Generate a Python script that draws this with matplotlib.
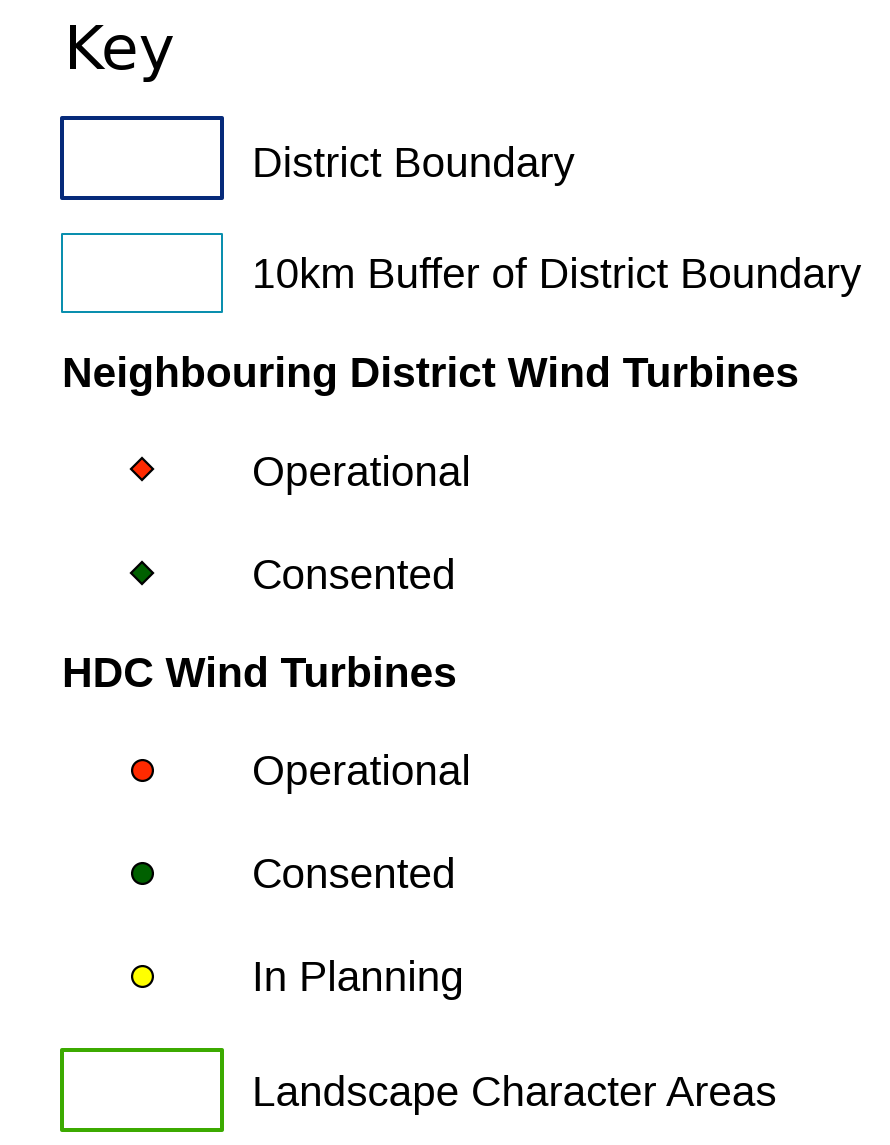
import matplotlib
matplotlib.use("Agg")
import matplotlib.pyplot as plt
from matplotlib.patches import Rectangle

plt.rcParams['font.family'] = ['Liberation Sans', 'DejaVu Sans']

title = "Key"
box_labels = ["District Boundary", "10km Buffer of District Boundary"]
box_colors = ["#062a7a", "#0a8fae"]
box_widths = [4.0, 2.0]

group1_heading = "Neighbouring District Wind Turbines"
group1_labels = ["Operational", "Consented"]
group1_colors = ["#ff2a00", "#006000"]

group2_heading = "HDC Wind Turbines"
group2_labels = ["Operational", "Consented", "In Planning"]
group2_colors = ["#ff2a00", "#006000", "#ffff00"]

last_label = "Landscape Character Areas"
last_color = "#3caa00"

W, H = 890, 1145
fig = plt.figure(figsize=(W / 100, H / 100), dpi=100)
ax = fig.add_axes([0, 0, 1, 1])
ax.set_xlim(0, W)
ax.set_ylim(H, 0)
ax.axis('off')

FS = 30.5
TX = 252

ax.text(64, 69, title, fontsize=44, va='baseline', ha='left', family=['DejaVu Sans'])

# box legend entries
box_tops = [118, 234]
box_h = [80, 78]
for lab, col, lw, top, hh, base in zip(box_labels, box_colors, box_widths, box_tops, box_h, [177, 288]):
    ax.add_patch(Rectangle((62, top), 160, hh, fill=False, edgecolor=col,
                           linewidth=lw * 0.72, joinstyle='round'))
    ax.text(TX, base, lab, fontsize=FS, va='baseline', ha='left')

ax.text(62, 387, group1_heading, fontsize=FS, fontweight='bold', va='baseline', ha='left')
for lab, col, yc, base in zip(group1_labels, group1_colors, [469, 573], [486, 589]):
    ax.plot([142], [yc], marker='D', markersize=11, markerfacecolor=col,
            markeredgecolor='black', markeredgewidth=1.6, linestyle='none')
    ax.text(TX, base, lab, fontsize=FS, va='baseline', ha='left')

ax.text(62, 687, group2_heading, fontsize=FS, fontweight='bold', va='baseline', ha='left')
for lab, col, yc, base in zip(group2_labels, group2_colors, [770, 873, 976], [785, 888, 991]):
    ax.plot([142], [yc], marker='o', markersize=15, markerfacecolor=col,
            markeredgecolor='black', markeredgewidth=1.6, linestyle='none')
    ax.text(TX, base, lab, fontsize=FS, va='baseline', ha='left')

ax.add_patch(Rectangle((62, 1050), 160, 80, fill=False, edgecolor=last_color,
                       linewidth=4.0 * 0.72, joinstyle='round'))
ax.text(TX, 1106, last_label, fontsize=FS, va='baseline', ha='left')

fig.savefig("out.png", dpi=100, facecolor='white')
